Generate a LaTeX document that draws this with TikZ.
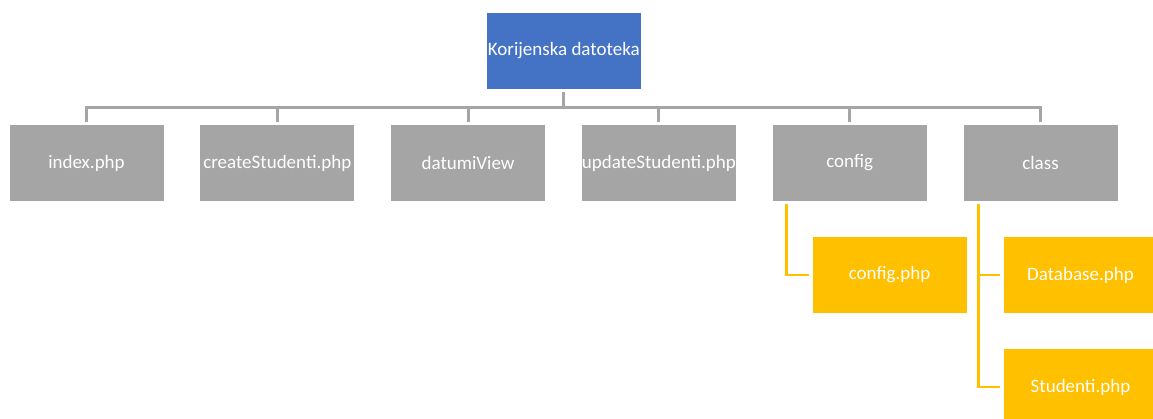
\documentclass[tikz,border=0pt]{standalone}
\usepackage{fontspec}
\setmainfont{Carlito}
\usetikzlibrary{calc}
\definecolor{rootblue}{HTML}{4472C4}
\definecolor{boxgray}{HTML}{A5A5A5}
\definecolor{boxyellow}{HTML}{FFC000}
\tikzset{
  box/.style={minimum width=154pt, minimum height=76pt, inner sep=0pt, text=white, font=\fontsize{19}{21}\selectfont},
  rootbox/.style={box, fill=rootblue},
  graybox/.style={box, fill=boxgray},
  yellowbox/.style={box, fill=boxyellow},
  conn/.style={draw=boxgray, line width=3pt, shorten <=3pt, shorten >=3pt},
  yconn/.style={draw=boxyellow, line width=2.5pt, shorten >=3pt},
}
\begin{document}
\begin{tikzpicture}[x=1pt, y=-1pt]
\clip (0,0) rectangle (1153,418);
\fill[white] (0,0) rectangle (1153,418);
\node[rootbox] (root) at (563.75,51) {Korijenska datoteka};
\node[graybox] (c1) at (86.5,163) {index.php};
\node[graybox] (c2) at (277.3,163) {createStudenti.php};
\node[graybox] (c3) at (468.1,163) {datumiView};
\node[graybox] (c4) at (658.9,163) {updateStudenti.php};
\node[graybox] (c5) at (849.7,163) {config};
\node[graybox] (c6) at (1040.5,163) {class};
\node[yellowbox] (y1) at (889.5,275) {config.php};
\node[yellowbox] (y2) at (1080.5,275) {Database.php};
\node[yellowbox] (y3) at (1080.5,387) {Studenti.php};
\foreach \c in {c1,c2,c3,c4,c5,c6}
  \draw[conn] (root.south) -- ++(0,18.5) -| (\c.north);
\coordinate (s5) at ($(c5.south west)+(14,3)$);
\coordinate (s6) at ($(c6.south west)+(15,3)$);
\draw[yconn] (s5) |- (y1.west);
\draw[yconn] (s6) |- (y2.west);
\draw[yconn] (s6) |- (y3.west);
\end{tikzpicture}
\end{document}
